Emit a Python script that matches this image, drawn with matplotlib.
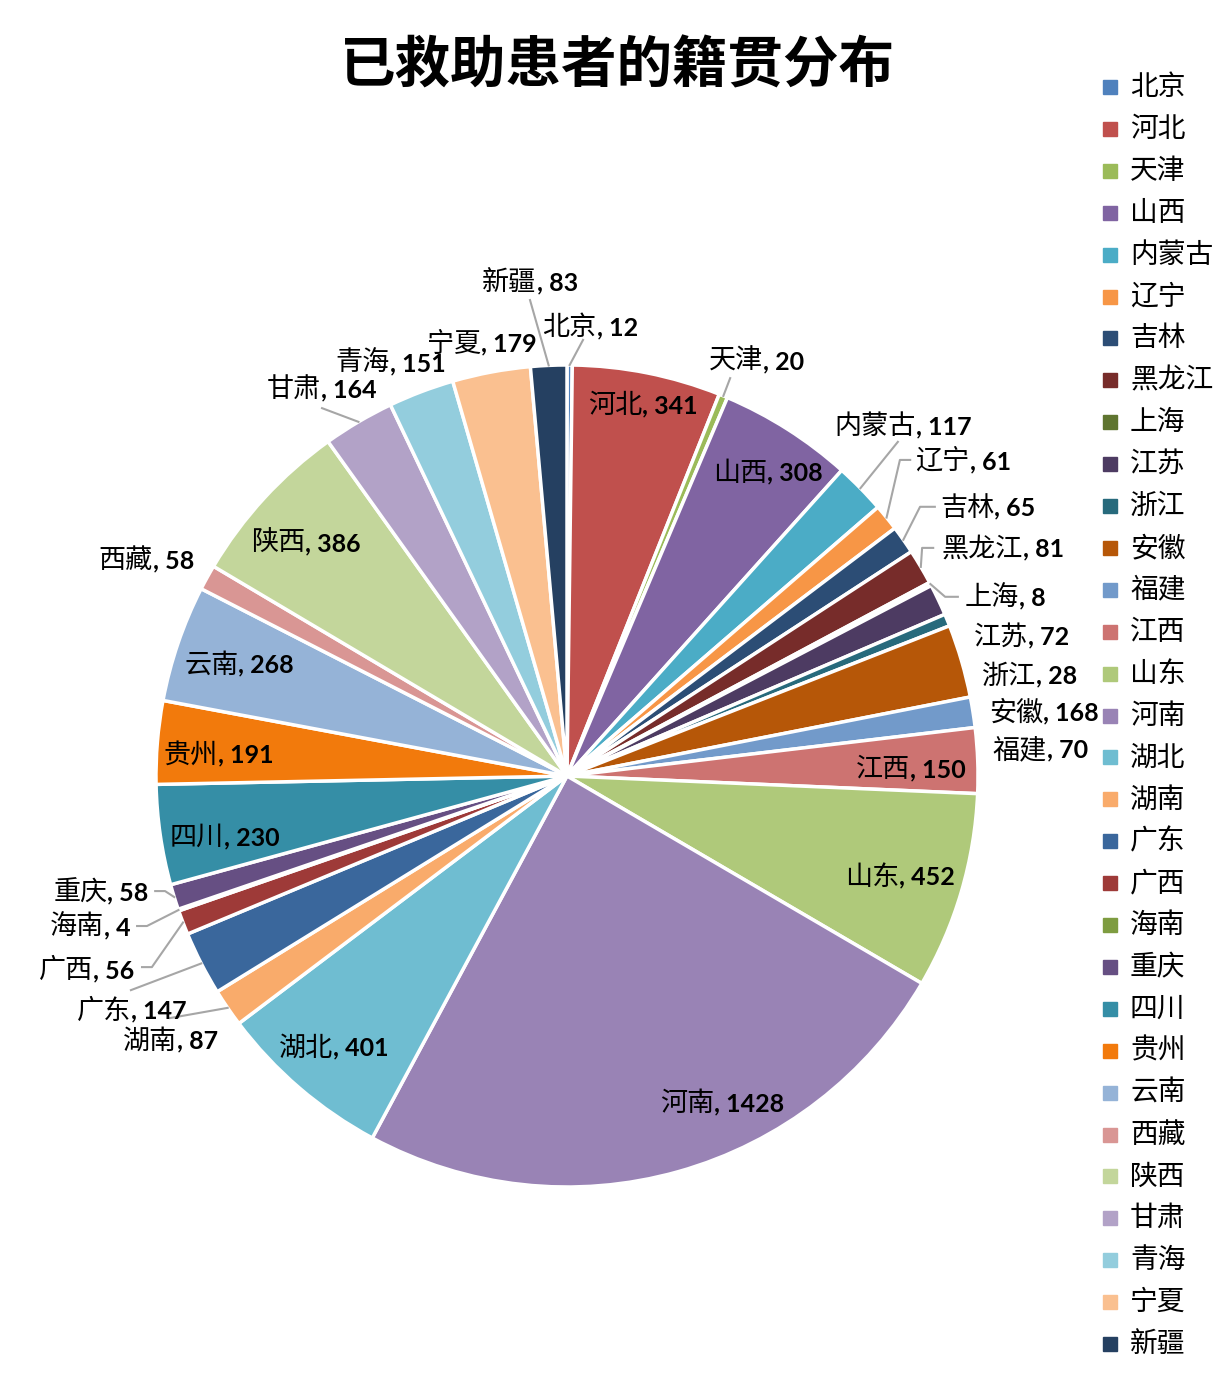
import matplotlib
matplotlib.use('Agg')
import matplotlib.pyplot as plt
from matplotlib.patches import Rectangle
import numpy as np

provinces = ['北京', '河北', '天津', '山西', '内蒙古', '辽宁', '吉林', '黑龙江', '上海', '江苏',
             '浙江', '安徽', '福建', '江西', '山东', '河南', '湖北', '湖南', '广东', '广西',
             '海南', '重庆', '四川', '贵州', '云南', '西藏', '陕西', '甘肃', '青海', '宁夏', '新疆']
counts = [12, 341, 20, 308, 117, 61, 65, 81, 8, 72,
          28, 168, 70, 150, 452, 1428, 401, 87, 147, 56,
          4, 58, 230, 191, 268, 58, 386, 164, 151, 179, 83]
colors = ['#4F81BD', '#C0504D', '#9BBB59', '#8064A2', '#4BACC6', '#F79646', '#2C4D75', '#772C2A',
          '#5F7530', '#4D3B62', '#276A7C', '#B65708', '#729ACA', '#CD7371', '#AFC97A', '#9983B5',
          '#6FBDD1', '#F9AB6B', '#3A679C', '#9E3A38', '#7E9C40', '#664F83', '#358EA6', '#F27A0C',
          '#95B3D7', '#D99694', '#C3D69B', '#B2A2C7', '#93CDDD', '#FAC090', '#254061']

# label centres, in units of the pie radius
label_pos = [(0.056, 1.095), (0.185, 0.905), (0.460, 1.012), (0.489, 0.740), (0.818, 0.854),
             (0.964, 0.769), (1.024, 0.655), (1.061, 0.555), (1.066, 0.436), (1.105, 0.341),
             (1.124, 0.246), (1.161, 0.156), (1.151, 0.066), (0.837, 0.019), (0.810, -0.243),
             (0.377, -0.793), (-0.567, -0.659), (-0.964, -0.642), (-1.058, -0.569), (-1.168, -0.470),
             (-1.161, -0.365), (-1.134, -0.282), (-0.832, -0.146), (-0.847, 0.054), (-0.798, 0.273),
             (-1.024, 0.528), (-0.635, 0.569), (-0.596, 0.944), (-0.430, 1.007), (-0.207, 1.054),
             (-0.090, 1.204)]
# leader line points after the wedge edge
leaders = {
    '北京': [(0.039, 1.061)],
    '天津': [(0.397, 0.968)],
    '内蒙古': [(0.805, 0.813)],
    '辽宁': [(0.810, 0.769), (0.835, 0.769)],
    '吉林': [(0.859, 0.655), (0.895, 0.655)],
    '黑龙江': [(0.864, 0.555), (0.891, 0.555)],
    '上海': [(0.920, 0.436), (0.951, 0.436)],
    '甘肃': [(-0.596, 0.895)],
    '新疆': [(-0.090, 1.158)],
    '湖南': [(-0.966, -0.589)],
    '广东': [(-1.061, -0.521)],
    '广西': [(-1.010, -0.465), (-1.034, -0.465)],
    '海南': [(-1.022, -0.365), (-1.046, -0.365)],
    '重庆': [(-0.978, -0.280), (-1.002, -0.280)],
}

CJK = ['Noto Sans CJK SC', 'DejaVu Sans']
NUM = ['Lato', 'Noto Sans CJK SC', 'DejaVu Sans']

W, H = 1214, 1391
fig = plt.figure(figsize=(W / 100, H / 100), dpi=100)
cx, cy, R = 567, 776, 411
ax = fig.add_axes([(cx - R) / W, (H - cy - R) / H, 2 * R / W, 2 * R / H])

wedges, _ = ax.pie(counts, colors=colors, startangle=90, counterclock=False, radius=1,
                   wedgeprops=dict(edgecolor='white', linewidth=2.5))
ax.set_xlim(-1, 1)
ax.set_ylim(-1, 1)
ax.set_aspect('equal')
ax.axis('off')

renderer = fig.canvas.get_renderer()


def put_label(x, y, name, val):
    t1 = ax.text(x, y, name, fontsize=19.5, family=CJK, ha='left', va='baseline')
    t2 = ax.text(x, y, ', %d' % val, fontsize=18, family=NUM, fontweight='bold',
                 ha='left', va='baseline')
    w1 = t1.get_window_extent(renderer).width
    w2 = t2.get_window_extent(renderer).width
    px, py = ax.transData.transform((x, y))
    left = px - (w1 + w2) / 2
    inv = ax.transData.inverted()
    t1.set_position(inv.transform((left, py - 9)))
    t2.set_position(inv.transform((left + w1, py - 9)))


for w, name, val, (lx, ly) in zip(wedges, provinces, counts, label_pos):
    put_label(lx, ly, name, val)
    if name in leaders:
        th = np.deg2rad((w.theta1 + w.theta2) / 2)
        pts = [(np.cos(th), np.sin(th))] + leaders[name]
        xs, ys = zip(*pts)
        ax.plot(xs, ys, color='#A6A6A6', lw=1.5, clip_on=False)

fig.text(617 / W, 1 - 67 / H, '已救助患者的籍贯分布', fontsize=40, fontweight='bold',
         family=CJK, ha='center', va='center')

# legend
for i, (name, c) in enumerate(zip(provinces, colors)):
    y = 87 + i * 41.9
    fig.patches.append(Rectangle(((1103) / W, 1 - (y + 7) / H), 14 / W, 14 / H,
                                 transform=fig.transFigure, color=c))
    fig.text(1130 / W, 1 - y / H, name, fontsize=20, family=CJK, ha='left', va='center')

fig.savefig('out.png', dpi=100, facecolor='white')
